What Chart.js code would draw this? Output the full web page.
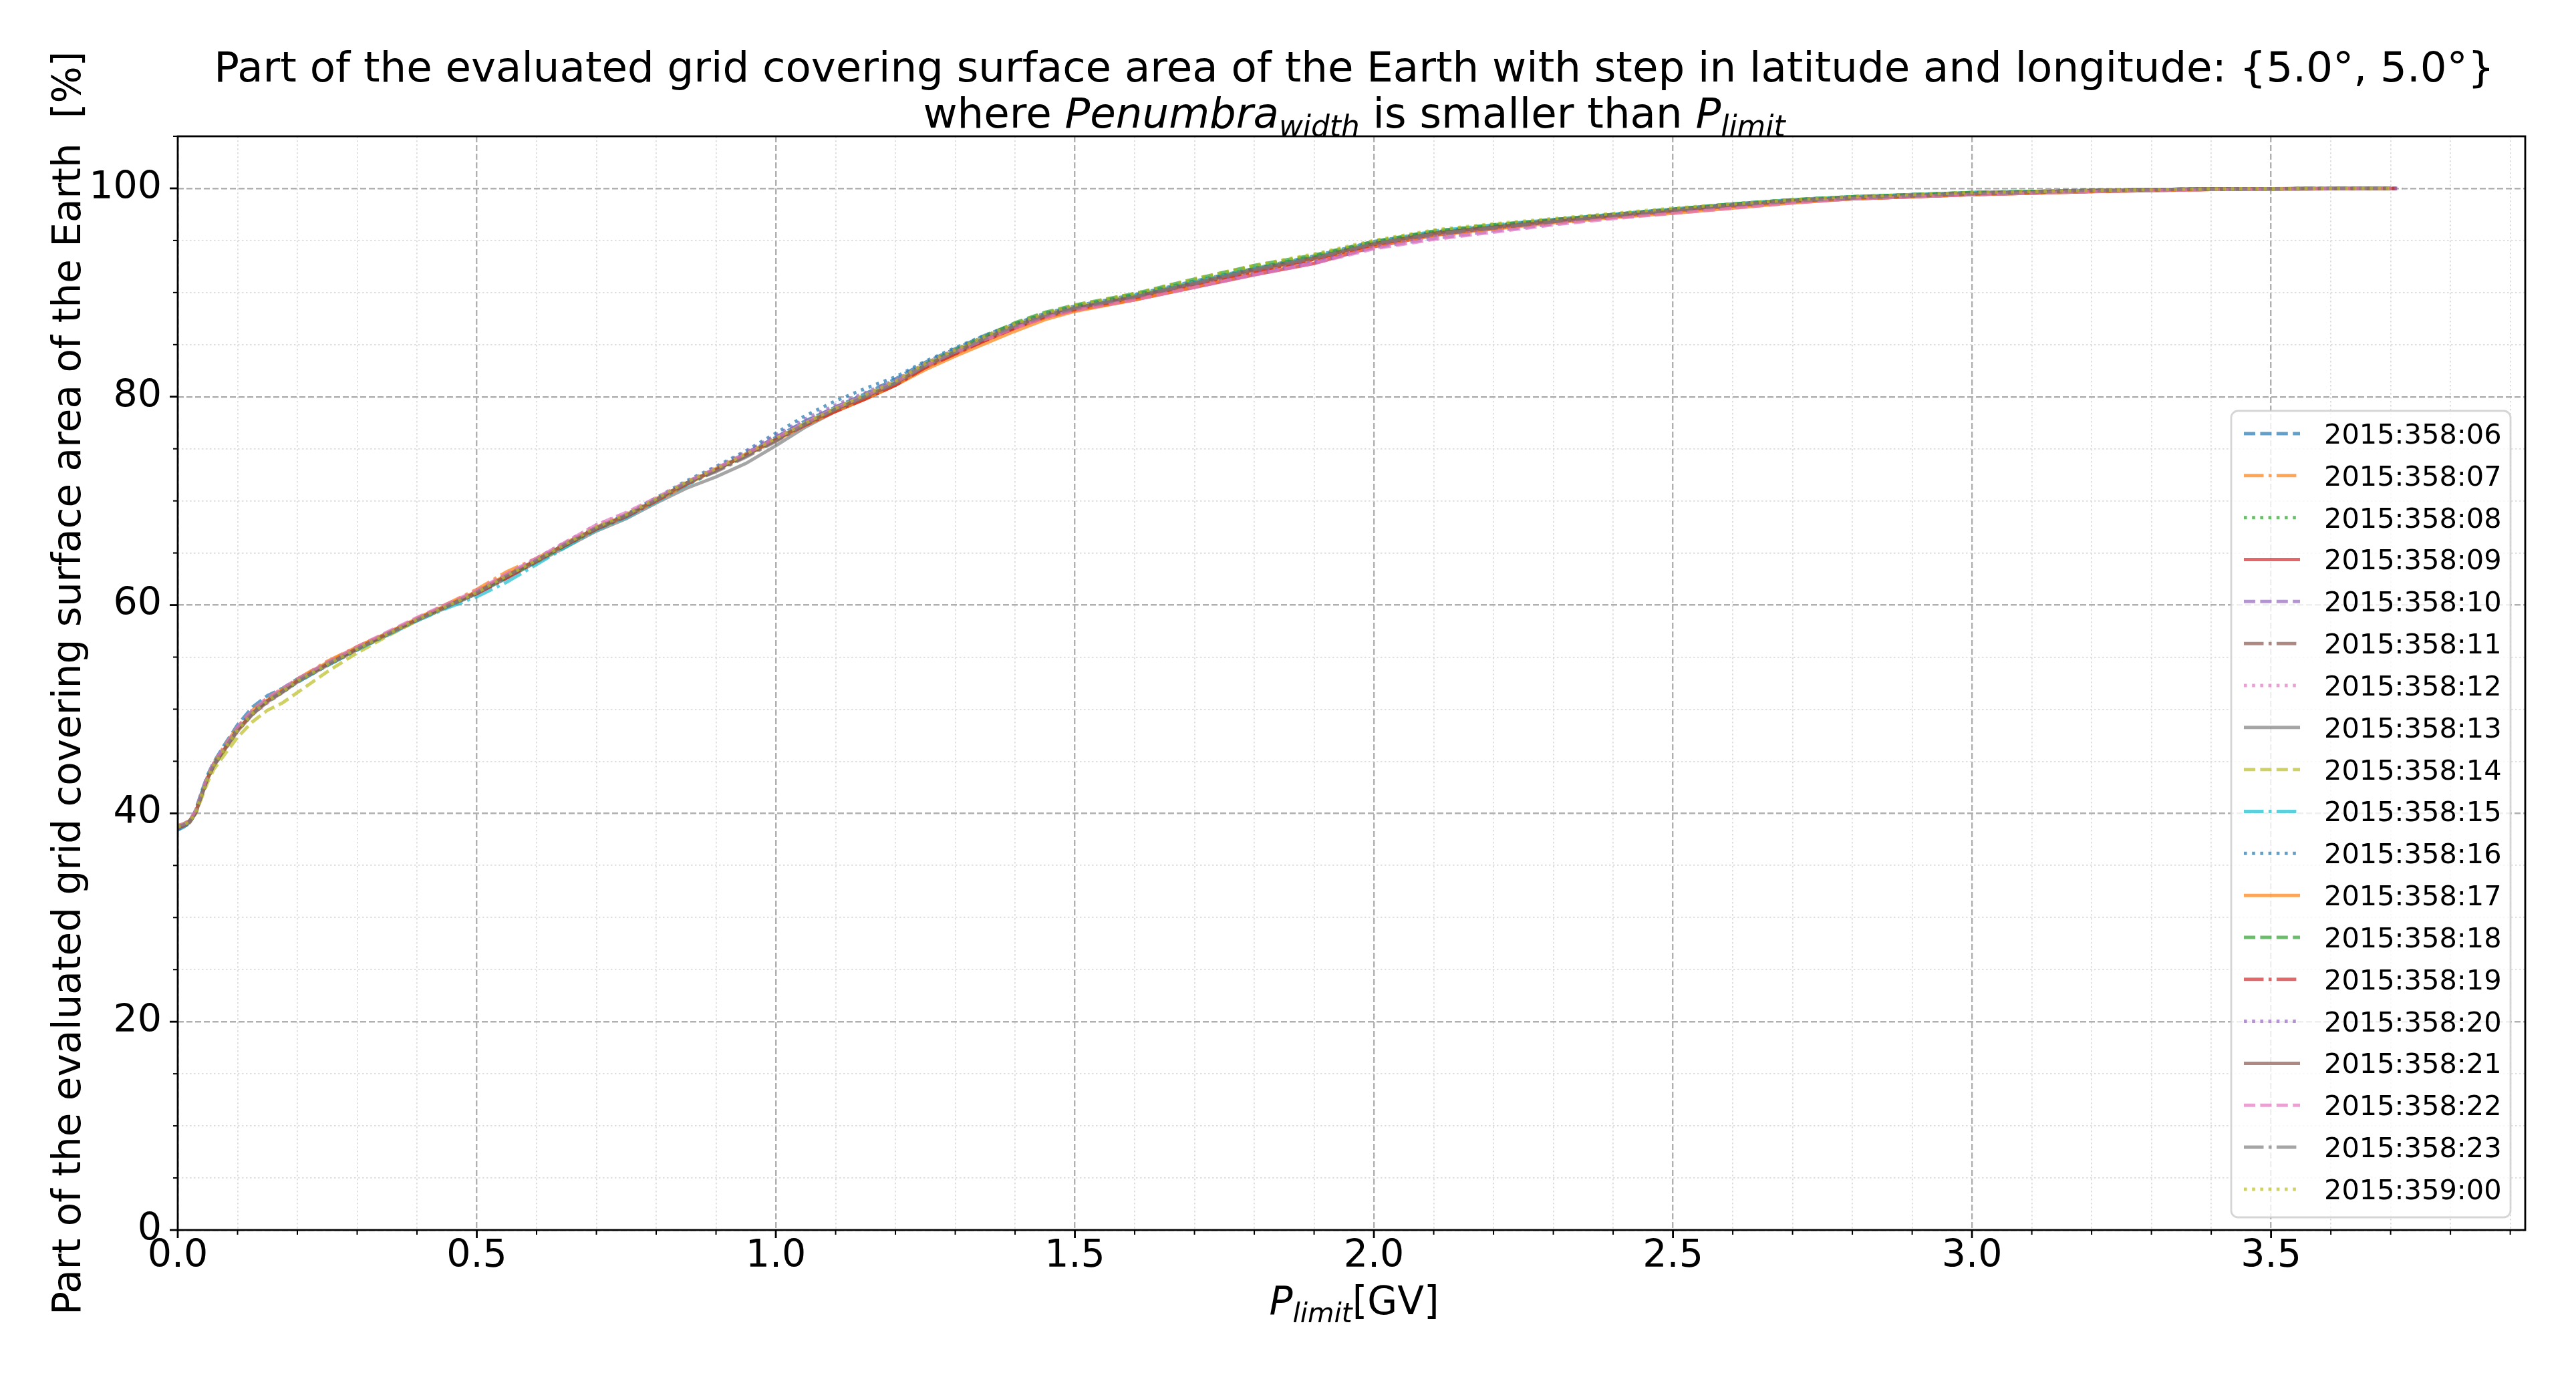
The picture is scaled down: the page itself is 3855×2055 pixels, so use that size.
<!DOCTYPE html>
<html lang="en">
<head>
<meta charset="UTF-8">
<title>Penumbra width coverage</title>
<script src="https://cdn.jsdelivr.net/npm/chart.js@4.4.1/dist/chart.umd.min.js"></script>
<style>
  html, body { margin: 0; padding: 0; background: #fff; }
  #wrap { width: 3855px; height: 2055px; position: relative; }
</style>
</head>
<body>
<div id="wrap"><canvas id="chart"></canvas></div>
<script>
// P_limit grid [GV] shared by all runs (the last point is replaced by each run's end)
const pLimit = [0.00, 0.01, 0.02, 0.03, 0.04, 0.05, 0.06,
  0.075, 0.10, 0.125, 0.15, 0.175, 0.20,
  0.25, 0.30, 0.35, 0.40, 0.45, 0.50,
  0.55, 0.60, 0.65, 0.70, 0.75, 0.80, 0.85, 0.90, 0.95, 1.00,
  1.05, 1.10, 1.15, 1.20, 1.25, 1.30, 1.35, 1.40, 1.45, 1.50,
  1.60, 1.70, 1.80, 1.90, 2.00, 2.10, 2.20, 2.30, 2.40, 2.50,
  2.60, 2.70, 2.80, 2.90, 3.00, 3.20, 3.40, 3.70];

const runLabels = ['2015:358:06', '2015:358:07', '2015:358:08', '2015:358:09', '2015:358:10',
  '2015:358:11', '2015:358:12', '2015:358:13', '2015:358:14', '2015:358:15', '2015:358:16',
  '2015:358:17', '2015:358:18', '2015:358:19', '2015:358:20', '2015:358:21', '2015:358:22',
  '2015:358:23', '2015:359:00'];

const runEnds = [3.69, 3.70, 3.70, 3.71, 3.70, 3.70, 3.70, 3.69, 3.70, 3.70,
  3.71, 3.70, 3.70, 3.71, 3.72, 3.70, 3.70, 3.70, 3.70];

// coverage [%] per run
const s06 = [38.4, 38.7, 39.1, 40.3, 42.1, 43.7, 44.9, 46.3, 48.5, 50.2, 51.3, 52.0, 52.9,
  54.4, 55.9, 57.3, 58.5, 59.8, 61.1, 62.6, 64.2, 65.8, 67.3, 68.5, 70.0, 71.6, 73.0, 74.5, 76.1,
  77.7, 79.0, 80.3, 81.7, 83.3, 84.6, 85.9, 87.0, 88.0, 88.7, 89.8, 91.1, 92.3, 93.5, 94.9, 95.8, 96.4, 97.0, 97.5, 98.0,
  98.5, 98.9, 99.2, 99.4, 99.6, 99.8, 99.95, 100];
const s07 = [38.8, 39.0, 39.3, 40.2, 41.9, 43.5, 44.8, 46.2, 48.3, 49.9, 51.1, 51.9, 52.9,
  54.6, 56.0, 57.3, 58.7, 60.1, 61.5, 63.2, 64.5, 66.0, 67.5, 68.7, 70.2, 71.7, 73.1, 74.5, 75.9,
  77.3, 78.7, 79.9, 81.2, 82.9, 84.2, 85.4, 86.6, 87.6, 88.4, 89.5, 90.8, 92.1, 93.2, 94.6, 95.6, 96.2, 96.8, 97.3, 97.8,
  98.3, 98.7, 99.0, 99.2, 99.4, 99.7, 99.9, 100];
const s08 = [38.6, 38.8, 39.2, 40.0, 41.7, 43.3, 44.5, 45.8, 47.9, 49.5, 50.7, 51.6, 52.6,
  54.2, 55.7, 57.1, 58.6, 59.9, 61.2, 62.7, 64.1, 65.7, 67.3, 68.5, 70.0, 71.5, 72.9, 74.3, 75.8,
  77.4, 78.8, 80.1, 81.4, 83.1, 84.5, 85.8, 87.0, 88.0, 88.7, 89.9, 91.2, 92.5, 93.5, 94.9, 95.9, 96.5, 97.0, 97.5, 98.0,
  98.5, 98.9, 99.2, 99.4, 99.6, 99.8, 99.95, 100];
const s09 = [38.7, 38.9, 39.2, 40.1, 41.8, 43.4, 44.6, 45.9, 48.0, 49.6, 50.8, 51.7, 52.7,
  54.3, 55.8, 57.2, 58.6, 59.9, 61.2, 62.8, 64.3, 65.9, 67.4, 68.6, 70.1, 71.7, 73.0, 74.4, 75.9,
  77.3, 78.6, 79.8, 81.1, 82.8, 84.1, 85.4, 86.6, 87.6, 88.3, 89.3, 90.5, 91.7, 92.8, 94.4, 95.5, 96.2, 96.8, 97.3, 97.8,
  98.3, 98.7, 99.0, 99.2, 99.4, 99.7, 99.9, 100];
const s10 = [38.6, 38.8, 39.2, 40.2, 41.9, 43.5, 44.7, 46.0, 48.2, 49.8, 50.9, 51.8, 52.8,
  54.4, 55.9, 57.3, 58.7, 60.0, 61.3, 62.9, 64.4, 66.0, 67.5, 68.7, 70.2, 71.8, 73.1, 74.6, 76.1,
  77.6, 79.0, 80.2, 81.5, 83.1, 84.4, 85.7, 86.9, 87.8, 88.5, 89.4, 90.6, 91.8, 92.9, 94.3, 95.2, 95.9, 96.6, 97.2, 97.7,
  98.2, 98.7, 99.0, 99.2, 99.4, 99.7, 99.9, 100];
const s11 = [38.7, 38.9, 39.3, 40.2, 41.8, 43.4, 44.6, 45.9, 48.0, 49.6, 50.8, 51.7, 52.6,
  54.2, 55.7, 57.2, 58.6, 59.9, 61.2, 62.8, 64.3, 65.8, 67.3, 68.5, 70.0, 71.6, 72.9, 74.3, 75.8,
  77.3, 78.7, 79.9, 81.2, 82.9, 84.2, 85.5, 86.7, 87.7, 88.4, 89.5, 90.8, 92.1, 93.2, 94.6, 95.6, 96.2, 96.8, 97.3, 97.8,
  98.3, 98.8, 99.1, 99.3, 99.5, 99.8, 99.95, 100];
const s12 = [38.8, 39.0, 39.3, 40.2, 41.9, 43.5, 44.6, 45.8, 47.9, 49.5, 50.6, 51.6, 52.7,
  54.4, 55.9, 57.3, 58.7, 60.0, 61.3, 62.9, 64.5, 66.1, 67.7, 68.8, 70.2, 71.7, 73.0, 74.4, 75.9,
  77.5, 78.9, 80.2, 81.5, 83.2, 84.5, 85.8, 86.9, 87.9, 88.6, 89.6, 90.8, 92.0, 93.0, 94.4, 95.4, 96.1, 96.7, 97.2, 97.7,
  98.2, 98.7, 99.0, 99.2, 99.5, 99.8, 99.95, 100];
const s13 = [38.6, 38.8, 39.1, 40.0, 41.7, 43.3, 44.5, 45.8, 47.9, 49.5, 50.7, 51.6, 52.6,
  54.2, 55.7, 57.1, 58.5, 59.8, 61.1, 62.6, 64.1, 65.6, 67.1, 68.3, 69.8, 71.2, 72.3, 73.6, 75.3,
  77.1, 78.6, 79.9, 81.2, 82.9, 84.3, 85.6, 86.8, 87.8, 88.5, 89.6, 90.9, 92.2, 93.3, 94.7, 95.7, 96.3, 96.9, 97.4, 97.9,
  98.4, 98.8, 99.1, 99.3, 99.5, 99.8, 99.95, 100];
const s14 = [38.8, 39.0, 39.3, 40.0, 41.5, 43.0, 44.2, 45.4, 47.3, 48.8, 49.9, 50.6, 51.6,
  53.6, 55.4, 57.0, 58.5, 59.9, 61.2, 62.8, 64.3, 65.9, 67.4, 68.6, 70.1, 71.7, 73.0, 74.4, 75.9,
  77.5, 78.9, 80.1, 81.4, 83.1, 84.4, 85.7, 86.9, 87.9, 88.6, 89.7, 91.0, 92.3, 93.4, 94.8, 95.8, 96.4, 97.0, 97.5, 98.0,
  98.5, 98.9, 99.2, 99.4, 99.6, 99.8, 99.95, 100];
const s15 = [38.5, 38.7, 39.2, 40.3, 42.0, 43.5, 44.7, 46.0, 48.0, 49.6, 50.8, 51.7, 52.6,
  54.2, 55.7, 57.1, 58.5, 59.7, 60.8, 62.2, 63.9, 65.6, 67.2, 68.4, 69.9, 71.5, 72.9, 74.3, 75.8,
  77.4, 78.8, 80.1, 81.3, 83.0, 84.3, 85.6, 86.8, 87.8, 88.5, 89.7, 91.0, 92.3, 93.4, 94.8, 95.9, 96.5, 97.0, 97.5, 98.0,
  98.5, 98.9, 99.2, 99.4, 99.6, 99.8, 99.95, 100];
const s16 = [38.5, 38.7, 39.1, 40.2, 41.9, 43.5, 44.7, 46.0, 48.1, 49.7, 50.9, 51.8, 52.8,
  54.3, 55.8, 57.2, 58.6, 59.9, 61.2, 62.7, 64.2, 65.8, 67.4, 68.7, 70.3, 71.9, 73.3, 74.8, 76.5,
  78.2, 79.6, 80.8, 81.9, 83.4, 84.7, 85.9, 87.0, 87.9, 88.6, 89.7, 91.0, 92.3, 93.4, 94.8, 95.8, 96.4, 97.0, 97.5, 98.0,
  98.5, 98.9, 99.2, 99.4, 99.6, 99.8, 99.95, 100];
const s17 = [38.7, 38.9, 39.2, 40.1, 41.8, 43.4, 44.6, 45.9, 48.0, 49.6, 50.9, 51.8, 52.8,
  54.5, 56.0, 57.3, 58.7, 60.0, 61.3, 62.9, 64.3, 65.9, 67.4, 68.6, 70.0, 71.6, 73.0, 74.4, 75.8,
  77.3, 78.6, 79.8, 81.1, 82.6, 83.9, 85.1, 86.3, 87.4, 88.2, 89.3, 90.6, 92.0, 93.2, 94.5, 95.5, 96.1, 96.7, 97.2, 97.6,
  98.1, 98.6, 99.0, 99.2, 99.4, 99.7, 99.9, 100];
const s18 = [38.7, 38.9, 39.2, 40.1, 41.8, 43.4, 44.6, 45.9, 48.1, 49.7, 50.9, 51.8, 52.8,
  54.4, 55.8, 57.2, 58.6, 59.9, 61.2, 62.7, 64.2, 65.8, 67.3, 68.6, 70.1, 71.7, 73.0, 74.4, 75.9,
  77.4, 78.8, 80.1, 81.4, 83.1, 84.5, 85.8, 87.1, 88.1, 88.8, 89.9, 91.3, 92.6, 93.6, 94.9, 95.9, 96.5, 97.0, 97.5, 98.0,
  98.5, 98.9, 99.2, 99.4, 99.6, 99.8, 99.95, 100];
const s19 = [38.6, 38.8, 39.2, 40.1, 41.8, 43.4, 44.6, 45.9, 48.0, 49.6, 50.8, 51.7, 52.7,
  54.3, 55.8, 57.2, 58.6, 59.9, 61.1, 62.6, 64.2, 65.8, 67.3, 68.5, 70.0, 71.6, 72.9, 74.3, 75.8,
  77.3, 78.6, 79.8, 81.1, 82.8, 84.1, 85.4, 86.6, 87.7, 88.4, 89.5, 90.8, 92.0, 93.2, 94.6, 95.6, 96.2, 96.8, 97.4, 97.9,
  98.4, 98.8, 99.1, 99.3, 99.5, 99.8, 99.95, 100];
const s20 = [38.6, 38.8, 39.2, 40.1, 41.8, 43.4, 44.6, 45.9, 48.0, 49.6, 50.8, 51.7, 52.7,
  54.3, 55.8, 57.2, 58.6, 59.9, 61.2, 62.8, 64.3, 65.9, 67.4, 68.6, 70.1, 71.8, 73.2, 74.7, 76.3,
  77.9, 79.2, 80.4, 81.6, 83.2, 84.5, 85.7, 86.9, 87.9, 88.6, 89.6, 90.8, 92.0, 93.0, 94.5, 95.5, 96.2, 96.8, 97.3, 97.8,
  98.3, 98.8, 99.1, 99.3, 99.5, 99.8, 99.95, 100];
const s21 = [38.7, 38.9, 39.2, 40.1, 41.8, 43.4, 44.6, 45.9, 48.0, 49.6, 50.8, 51.7, 52.7,
  54.3, 55.8, 57.2, 58.6, 59.9, 61.2, 62.8, 64.3, 65.9, 67.4, 68.6, 70.1, 71.7, 73.0, 74.4, 75.9,
  77.4, 78.8, 80.0, 81.3, 83.0, 84.3, 85.6, 86.8, 87.8, 88.5, 89.6, 90.9, 92.2, 93.3, 94.7, 95.7, 96.3, 96.9, 97.4, 97.9,
  98.4, 98.8, 99.1, 99.3, 99.5, 99.8, 99.95, 100];
const s22 = [38.8, 39.0, 39.3, 40.3, 42.0, 43.6, 44.8, 46.1, 48.3, 49.9, 51.1, 52.0, 52.9,
  54.5, 56.0, 57.4, 58.8, 60.1, 61.4, 63.0, 64.5, 66.1, 67.7, 68.9, 70.3, 71.8, 73.1, 74.5, 76.0,
  77.5, 78.9, 80.1, 81.4, 83.0, 84.3, 85.5, 86.6, 87.6, 88.3, 89.3, 90.5, 91.7, 92.8, 94.2, 95.1, 95.8, 96.5, 97.1, 97.6,
  98.1, 98.6, 99.0, 99.2, 99.4, 99.7, 99.9, 100];
const s23 = [38.7, 38.9, 39.2, 40.1, 41.8, 43.4, 44.6, 45.9, 48.0, 49.6, 50.8, 51.7, 52.7,
  54.3, 55.8, 57.2, 58.6, 59.9, 61.2, 62.8, 64.3, 65.9, 67.4, 68.6, 70.1, 71.7, 72.8, 74.2, 75.7,
  77.4, 78.8, 80.0, 81.3, 83.0, 84.3, 85.6, 86.8, 87.8, 88.5, 89.6, 90.9, 92.2, 93.3, 94.7, 95.6, 96.2, 96.8, 97.4, 97.9,
  98.4, 98.8, 99.1, 99.3, 99.5, 99.8, 99.95, 100];
const s00 = [38.7, 38.9, 39.2, 40.1, 41.8, 43.4, 44.6, 45.9, 48.0, 49.6, 50.8, 51.7, 52.7,
  54.3, 55.8, 57.2, 58.6, 59.9, 61.2, 62.8, 64.3, 65.9, 67.5, 68.7, 70.2, 71.8, 73.1, 74.5, 76.0,
  77.5, 78.9, 80.2, 81.5, 83.2, 84.5, 85.8, 87.0, 88.0, 88.8, 89.9, 91.3, 92.6, 93.7, 95.0, 96.0, 96.6, 97.1, 97.6, 98.1,
  98.5, 98.9, 99.2, 99.4, 99.6, 99.8, 99.95, 100];

const runValues = [s06, s07, s08, s09, s10, s11, s12, s13, s14, s15, s16, s17, s18, s19, s20, s21, s22, s23, s00];

const FONT = '"DejaVu Sans", sans-serif';
// matplotlib tab10, drawn with alpha 0.7
const tab10 = ['31,119,180', '255,127,14', '44,160,44', '214,39,40', '148,103,189',
  '140,86,75', '227,119,194', '127,127,127', '188,189,34', '23,190,207'];
const LW = 5;
const dashes = [[17, 7.4], [29.5, 7.4, 4.6, 7.4], [4.6, 7.6], []]; // --, -., :, -

const isMajorX = v => Math.abs(v * 2 - Math.round(v * 2)) < 1e-6;
const isMajorY = v => Math.abs(v / 20 - Math.round(v / 20)) < 1e-6;

const datasets = runLabels.map((label, k) => ({
  label: label,
  data: runValues[k].map((y, i) => ({ x: i === pLimit.length - 1 ? runEnds[k] : pLimit[i], y: y })),
  borderColor: 'rgba(' + tab10[k % 10] + ',0.7)',
  borderWidth: LW,
  borderDash: dashes[k % 4],
  pointRadius: 0,
  tension: 0,
  fill: false,
  order: runLabels.length - k
}));

// draw text made of runs (italic / subscript), centred on cx
function drawRuns(ctx, runs, cx, baseY, size) {
  const fontOf = r => (r.it ? 'italic ' : '') + (r.sub ? size * 0.7 : size) + 'px ' + FONT;
  let total = 0;
  runs.forEach(r => { ctx.font = fontOf(r); r.w = ctx.measureText(r.t).width; total += r.w; });
  let x = cx - total / 2;
  ctx.textAlign = 'left';
  ctx.textBaseline = 'alphabetic';
  runs.forEach(r => {
    ctx.font = fontOf(r);
    ctx.fillText(r.t, x, baseY + (r.sub ? size * 0.2 : 0));
    x += r.w;
  });
}

const decorPlugin = {
  id: 'decor',
  afterDatasetsDraw(chart) {
    const { ctx, chartArea: a, scales: { x, y } } = chart;
    ctx.save();
    // tick marks
    ctx.strokeStyle = '#000';
    x.ticks.forEach(t => {
      const px = x.getPixelForValue(t.value);
      const major = isMajorX(t.value);
      ctx.lineWidth = major ? 2.8 : 2;
      ctx.beginPath();
      ctx.moveTo(px, a.bottom);
      ctx.lineTo(px, a.bottom + (major ? 12 : 7));
      ctx.stroke();
    });
    y.ticks.forEach(t => {
      const py = y.getPixelForValue(t.value);
      const major = isMajorY(t.value);
      ctx.lineWidth = major ? 2.8 : 2;
      ctx.beginPath();
      ctx.moveTo(a.left, py);
      ctx.lineTo(a.left - (major ? 12 : 7), py);
      ctx.stroke();
    });
    // frame
    ctx.lineWidth = 2.8;
    ctx.strokeRect(a.left, a.top, a.right - a.left, a.bottom - a.top);

    // legend
    const lx = 3339, ly = 615, lw = 418, lh = 1207;
    ctx.beginPath();
    ctx.roundRect(lx, ly, lw, lh, 10);
    ctx.fillStyle = 'rgba(255,255,255,0.8)';
    ctx.fill();
    ctx.strokeStyle = 'rgba(204,204,204,0.8)';
    ctx.lineWidth = 2.8;
    ctx.stroke();
    ctx.font = '41.5px ' + FONT;
    ctx.textAlign = 'left';
    ctx.textBaseline = 'alphabetic';
    chart.data.datasets.forEach((ds, i) => {
      const cy = 649 + i * 62.83;
      ctx.strokeStyle = ds.borderColor;
      ctx.lineWidth = ds.borderWidth;
      ctx.setLineDash(ds.borderDash);
      ctx.beginPath();
      ctx.moveTo(3358, cy);
      ctx.lineTo(3442, cy);
      ctx.stroke();
      ctx.setLineDash([]);
      ctx.fillStyle = '#000';
      ctx.fillText(ds.label, 3478, cy + 15);
    });
    ctx.restore();
  },
  afterDraw(chart) {
    const { ctx, chartArea: a } = chart;
    const cx = (a.left + a.right) / 2;
    ctx.save();
    ctx.fillStyle = '#000';
    drawRuns(ctx, [{ t: 'Part of the evaluated grid covering surface area of the Earth with step in latitude and longitude: {5.0°, 5.0°}' }], cx + 4, 122, 62.6);
    drawRuns(ctx, [{ t: 'where ' }, { t: 'Penumbra', it: true }, { t: 'width', it: true, sub: true },
      { t: ' is smaller than ' }, { t: 'P', it: true }, { t: 'limit', it: true, sub: true }], cx + 4, 191, 62.6);
    drawRuns(ctx, [{ t: 'P', it: true }, { t: 'limit', it: true, sub: true }, { t: '[GV]' }], cx + 4, 1967, 58);
    ctx.translate(120, (a.top + a.bottom) / 2);
    ctx.rotate(-Math.PI / 2);
    drawRuns(ctx, [{ t: 'Part of the evaluated grid covering surface area of the Earth  [%]' }], 0, 0, 58);
    ctx.restore();
  }
};

new Chart(document.getElementById('chart'), {
  type: 'line',
  data: { datasets: datasets },
  options: {
    responsive: true,
    maintainAspectRatio: false,
    devicePixelRatio: 1,
    animation: false,
    layout: { padding: { top: 204, right: 76, bottom: 0, left: 0 } },
    plugins: { legend: { display: false }, title: { display: false }, tooltip: { enabled: false } },
    scales: {
      x: {
        type: 'linear',
        min: 0,
        max: 3.925,
        afterFit: s => { s.height = 214; },
        ticks: {
          stepSize: 0.1,
          autoSkip: false,
          includeBounds: false,
          maxRotation: 0,
          padding: 6,
          color: '#000',
          font: { family: FONT, size: 57 },
          callback: v => isMajorX(v) ? v.toFixed(1) : ''
        },
        grid: {
          drawTicks: false,
          color: c => c.tick && isMajorX(c.tick.value) ? '#b0b0b0' : '#dcdcdc',
          lineWidth: c => c.tick && isMajorX(c.tick.value) ? 2.4 : 1.8
        },
        border: {
          display: false,
          dash: c => c.tick ? (isMajorX(c.tick.value) ? [9, 4] : [2.5, 3.5]) : []
        }
      },
      y: {
        min: 0,
        max: 105,
        afterFit: s => { s.width = 266; },
        ticks: {
          stepSize: 5,
          autoSkip: false,
          includeBounds: false,
          padding: 24,
          color: '#000',
          font: { family: FONT, size: 57 },
          callback: v => isMajorY(v) ? String(v) : ''
        },
        grid: {
          drawTicks: false,
          color: c => c.tick && isMajorY(c.tick.value) ? '#b0b0b0' : '#dcdcdc',
          lineWidth: c => c.tick && isMajorY(c.tick.value) ? 2.4 : 1.8
        },
        border: {
          display: false,
          dash: c => c.tick ? (isMajorY(c.tick.value) ? [9, 4] : [2.5, 3.5]) : []
        }
      }
    }
  },
  plugins: [decorPlugin]
});
</script>
</body>
</html>
